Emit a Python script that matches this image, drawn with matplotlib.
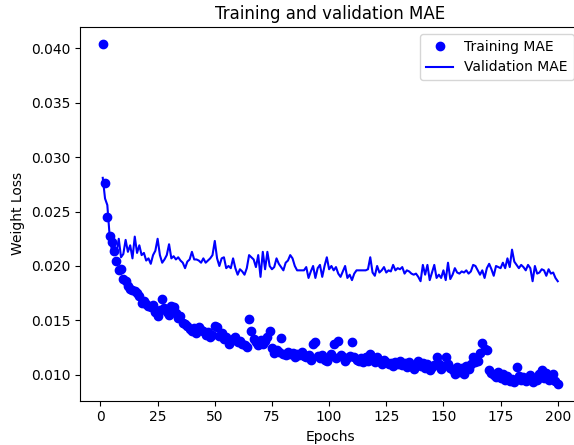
import matplotlib
matplotlib.use("Agg")
import matplotlib.pyplot as plt

train_mae = [
    0.0404, 0.0276, 0.0245, 0.0228, 0.0222, 0.0214, 0.0205, 0.0196, 0.0197, 0.0188,
    0.0186, 0.0182, 0.0179, 0.0178, 0.0177, 0.0175, 0.0172, 0.0166, 0.0168, 0.0165,
    0.0163, 0.0162, 0.0164, 0.0158, 0.0154, 0.0160, 0.0170, 0.0161, 0.0158, 0.0155,
    0.0163, 0.0162, 0.0157, 0.0152, 0.0154, 0.0148, 0.0147, 0.0145, 0.0142, 0.0140,
    0.0143, 0.0138, 0.0144, 0.0141, 0.0140, 0.0137, 0.0139, 0.0135, 0.0137, 0.0145,
    0.0144, 0.0136, 0.0138, 0.0133, 0.0135, 0.0128, 0.0131, 0.0133, 0.0135, 0.0130,
    0.0131, 0.0128, 0.0127, 0.0126, 0.0151, 0.0140, 0.0133, 0.0130, 0.0127, 0.0132,
    0.0128, 0.0131, 0.0135, 0.0140, 0.0125, 0.0120, 0.0123, 0.0121, 0.0134, 0.0119,
    0.0118, 0.0121, 0.0119, 0.0120, 0.0116, 0.0119, 0.0118, 0.0121, 0.0117, 0.0116,
    0.0118, 0.0114, 0.0128, 0.0130, 0.0117, 0.0115, 0.0118, 0.0114, 0.0113, 0.0116,
    0.0119, 0.0128, 0.0115, 0.0131, 0.0118, 0.0116, 0.0113, 0.0115, 0.0117, 0.0130,
    0.0116, 0.0114, 0.0113, 0.0115, 0.0112, 0.0116, 0.0113, 0.0119, 0.0114, 0.0112,
    0.0116, 0.0113, 0.0110, 0.0114, 0.0112, 0.0110, 0.0111, 0.0108, 0.0112, 0.0110,
    0.0113, 0.0109, 0.0111, 0.0107, 0.0112, 0.0109, 0.0105, 0.0110, 0.0113, 0.0108,
    0.0111, 0.0106, 0.0110, 0.0104, 0.0107, 0.0109, 0.0116, 0.0110, 0.0105, 0.0108,
    0.0116, 0.0110, 0.0106, 0.0104, 0.0101, 0.0107, 0.0103, 0.0106, 0.0101, 0.0108,
    0.0105, 0.0110, 0.0116, 0.0112, 0.0113, 0.0120, 0.0129, 0.0124, 0.0123, 0.0104,
    0.0102, 0.0100, 0.0098, 0.0103, 0.0097, 0.0101, 0.0095, 0.0099, 0.0094, 0.0096,
    0.0093, 0.0107, 0.0099, 0.0095, 0.0098, 0.0094, 0.0096, 0.0100, 0.0093, 0.0097,
    0.0095, 0.0101, 0.0104, 0.0097, 0.0102, 0.0095, 0.0098, 0.0101, 0.0094, 0.0092,
]

val_mae = [
    0.0281, 0.0262, 0.0256, 0.0228, 0.0214, 0.0220, 0.0212, 0.0225, 0.0208, 0.0211,
    0.0224, 0.0213, 0.0219, 0.0207, 0.0227, 0.0212, 0.0219, 0.0210, 0.0212, 0.0205,
    0.0207, 0.0202, 0.0210, 0.0214, 0.0225, 0.0210, 0.0203, 0.0206, 0.0210, 0.0220,
    0.0207, 0.0209, 0.0206, 0.0208, 0.0205, 0.0203, 0.0198, 0.0204, 0.0206, 0.0213,
    0.0206, 0.0206, 0.0205, 0.0203, 0.0207, 0.0203, 0.0205, 0.0207, 0.0210, 0.0223,
    0.0207, 0.0200, 0.0207, 0.0208, 0.0198, 0.0200, 0.0198, 0.0207, 0.0198, 0.0192,
    0.0197, 0.0195, 0.0192, 0.0198, 0.0210, 0.0208, 0.0206, 0.0199, 0.0210, 0.0190,
    0.0213, 0.0197, 0.0213, 0.0200, 0.0197, 0.0199, 0.0207, 0.0202, 0.0199, 0.0196,
    0.0203, 0.0205, 0.0210, 0.0207, 0.0200, 0.0196, 0.0196, 0.0196, 0.0196, 0.0199,
    0.0189, 0.0195, 0.0200, 0.0189, 0.0198, 0.0201, 0.0190, 0.0200, 0.0208, 0.0197,
    0.0200, 0.0196, 0.0199, 0.0193, 0.0190, 0.0195, 0.0200, 0.0189, 0.0192, 0.0187,
    0.0193, 0.0196, 0.0196, 0.0196, 0.0196, 0.0196, 0.0197, 0.0208, 0.0194, 0.0191,
    0.0200, 0.0194, 0.0196, 0.0199, 0.0194, 0.0196, 0.0195, 0.0201, 0.0196, 0.0198,
    0.0197, 0.0199, 0.0193, 0.0196, 0.0195, 0.0193, 0.0192, 0.0193, 0.0190, 0.0186,
    0.0201, 0.0192, 0.0201, 0.0187, 0.0194, 0.0201, 0.0189, 0.0192, 0.0189, 0.0196,
    0.0187, 0.0203, 0.0188, 0.0192, 0.0198, 0.0194, 0.0193, 0.0195, 0.0194, 0.0196,
    0.0193, 0.0195, 0.0201, 0.0200, 0.0196, 0.0192, 0.0196, 0.0189, 0.0198, 0.0202,
    0.0197, 0.0191, 0.0200, 0.0199, 0.0198, 0.0203, 0.0198, 0.0207, 0.0199, 0.0215,
    0.0204, 0.0201, 0.0198, 0.0201, 0.0199, 0.0196, 0.0201, 0.0198, 0.0186, 0.0200,
    0.0193, 0.0194, 0.0197, 0.0196, 0.0191, 0.0197, 0.0193, 0.0194, 0.0189, 0.0186,
]

epochs = list(range(1, len(train_mae) + 1))

fig = plt.figure(figsize=(5.74, 4.45), dpi=100)
ax = fig.add_axes([80 / 574, 44.5 / 445, 500.5 / 574, 373.5 / 445])
ax.plot(epochs, train_mae, 'bo', label='Training MAE')
ax.plot(epochs, val_mae, 'b', label='Validation MAE')
ax.set_title('Training and validation MAE')
ax.set_xlabel('Epochs')
ax.set_ylabel('Weight Loss')
ax.legend()
fig.savefig('out.png', dpi=100)
